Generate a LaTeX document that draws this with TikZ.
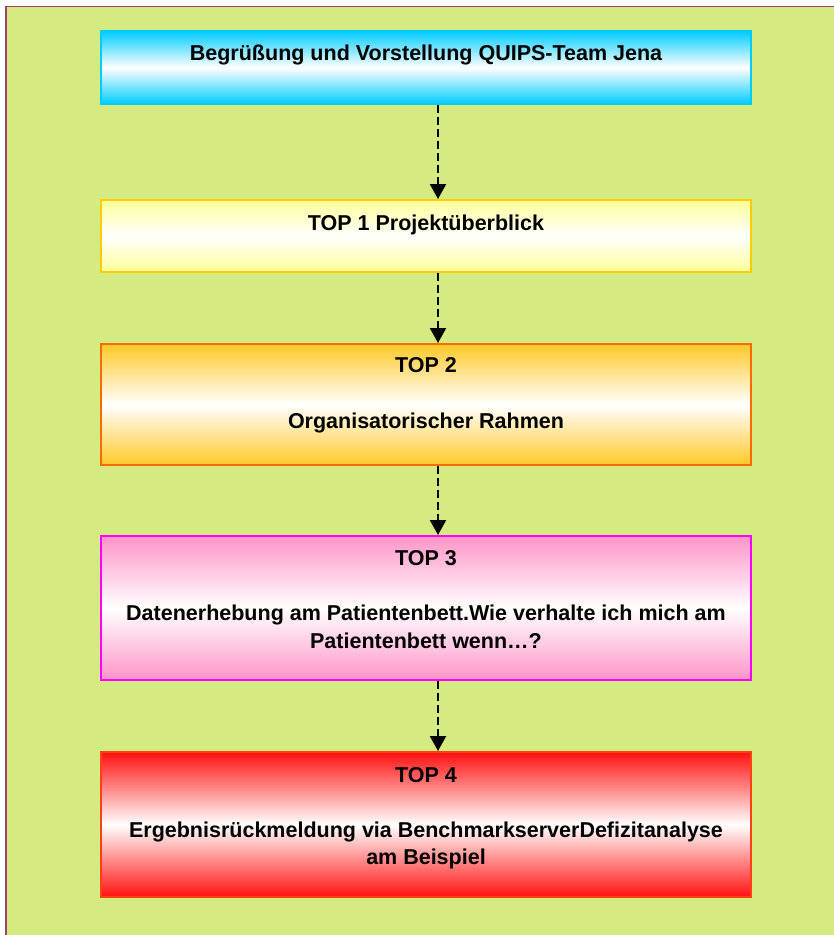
\documentclass[tikz,border=0pt]{standalone}
\usepackage{fontspec}
\setmainfont{Liberation Sans}
\usetikzlibrary{arrows.meta,shadings}
\definecolor{bggreen}{HTML}{D3EB80}
\definecolor{framec}{HTML}{A0406E}
\definecolor{cyanc}{HTML}{00CCFF}
\definecolor{yellowc}{HTML}{FFFF99}
\definecolor{yellowb}{HTML}{FFCC00}
\definecolor{orangec}{HTML}{FFC828}
\definecolor{orangeb}{HTML}{FF6A00}
\definecolor{pinkc}{HTML}{FF94C8}
\definecolor{pinkb}{HTML}{FF00FF}
\definecolor{redc}{HTML}{FF1010}
\definecolor{redb}{HTML}{FF4010}
\tikzset{
  agendabox/.style={draw=#1, line width=2pt, minimum width=650pt, anchor=north, inner sep=0pt},
  ltxt/.style={anchor=base, inner sep=0pt, font=\fontsize{21.5}{25}\selectfont\bfseries},
  flowarrow/.style={line width=2pt, dash pattern=on 8pt off 4pt, -{Triangle[length=15pt,width=16pt]}},
}
\begin{document}
\begin{tikzpicture}[x=1pt,y=-1pt]
\useasboundingbox (0,0) rectangle (834,935);
\clip (0,0) rectangle (834,935);
\fill[white] (0,0) rectangle (834,935);
\draw[framec, line width=1.5pt, fill=bggreen] (6,6.5) rectangle (860,960);

\node[agendabox=cyanc, top color=cyanc, bottom color=cyanc, middle color=white, minimum height=73pt] (b0) at (426,30) {};
\node[agendabox=yellowb, top color=yellowc, bottom color=yellowc, middle color=white, minimum height=72pt] (b1) at (426,199) {};
\node[agendabox=orangeb, top color=orangec, bottom color=orangec, middle color=white, minimum height=121pt] (b2) at (426,343) {};
\node[agendabox=pinkb, top color=pinkc, bottom color=pinkc, middle color=white, minimum height=144pt] (b3) at (426,535) {};
\node[agendabox=redb, top color=redc, bottom color=redc, middle color=white, minimum height=145pt] (b4) at (426,751) {};

\node[ltxt] (t0) at (426,60) {Begrüßung und Vorstellung QUIPS-Team Jena};
\node[ltxt] (t1) at (426,230) {TOP 1 Projektüberblick};
\node[ltxt] (t2a) at (426,372) {TOP 2};
\node[ltxt] (t2b) at (426,428) {Organisatorischer Rahmen};
\node[ltxt] (t3a) at (426,565) {TOP 3};
\node[ltxt] (t3b) at (426,620) {Datenerhebung am Patientenbett.Wie verhalte ich mich am};
\node[ltxt] (t3c) at (426,648) {Patientenbett wenn…?};
\node[ltxt] (t4a) at (426,782) {TOP 4};
\node[ltxt] (t4b) at (426,837) {Ergebnisrückmeldung via BenchmarkserverDefizitanalyse};
\node[ltxt] (t4c) at (426,864) {am Beispiel};

\coordinate (ax) at (438,0);
\draw[flowarrow] (b0.south -| ax) -- (b1.north -| ax);
\draw[flowarrow] (b1.south -| ax) -- (b2.north -| ax);
\draw[flowarrow] (b2.south -| ax) -- (b3.north -| ax);
\draw[flowarrow] (b3.south -| ax) -- (b4.north -| ax);
\end{tikzpicture}
\end{document}
